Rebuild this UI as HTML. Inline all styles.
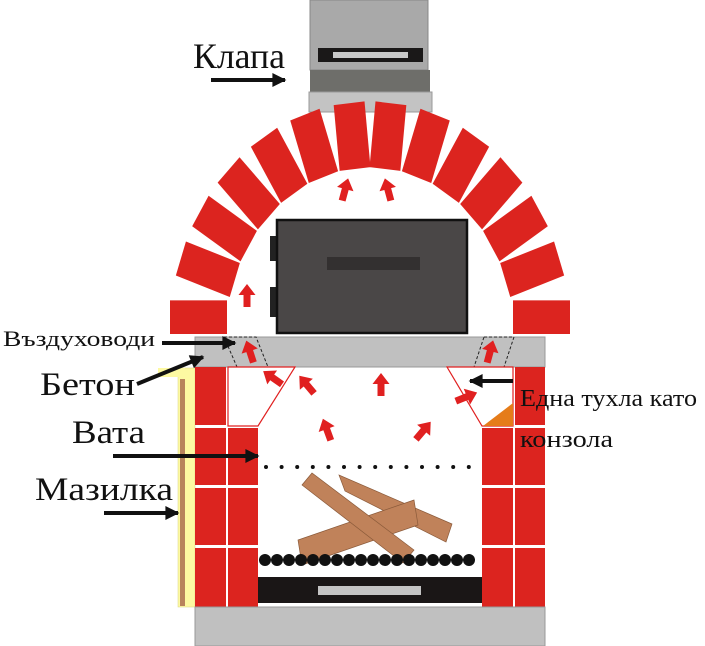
<!DOCTYPE html>
<html><head><meta charset="utf-8"><style>
html,body{margin:0;padding:0;background:#fff}
svg{display:block}
text{font-family:"Liberation Serif",serif;fill:#111}
</style></head><body>
<svg width="705" height="646" viewBox="0 0 705 646" xmlns="http://www.w3.org/2000/svg">
<defs>
<path id="ra" d="M-3.5,11 L3.5,11 L3.5,-1 L8.5,-1 L0,-12 L-8.5,-1 L-3.5,-1Z" fill="#e02020"/>
<marker id="bh" viewBox="0 0 10 10" refX="9" refY="5" markerWidth="5" markerHeight="3.5" orient="auto" markerUnits="strokeWidth"><path d="M0,0 L10,5 L0,10Z" fill="#111"/></marker>
</defs>
<rect x="310" y="0" width="118" height="70" fill="#a9a9a9" stroke="#888" stroke-width="1"/>
<rect x="318" y="48" width="105" height="14" fill="#1a1818"/>
<rect x="333" y="52" width="75" height="6" fill="#c8c8c8"/>
<rect x="310" y="70" width="120" height="22" fill="#6e6e6a"/>
<rect x="309" y="92" width="123" height="20" fill="#c3c3c3" stroke="#999" stroke-width="1"/>
<g transform="translate(370,334) scale(1,1.16)" fill="#dc241f">
<rect x="143" y="-29" width="57" height="29"/>
<rect x="143" y="-15.5" width="57" height="31" transform="rotate(-19)"/>
<rect x="143" y="-15.5" width="57" height="31" transform="rotate(-32)"/>
<rect x="143" y="-15.5" width="57" height="31" transform="rotate(-45)"/>
<rect x="143" y="-15.5" width="57" height="31" transform="rotate(-58)"/>
<rect x="143" y="-15.5" width="57" height="31" transform="rotate(-71)"/>
<rect x="143" y="-15.5" width="57" height="31" transform="rotate(-84)"/>
<rect x="143" y="-15.5" width="57" height="31" transform="rotate(-96)"/>
<rect x="143" y="-15.5" width="57" height="31" transform="rotate(-109)"/>
<rect x="143" y="-15.5" width="57" height="31" transform="rotate(-122)"/>
<rect x="143" y="-15.5" width="57" height="31" transform="rotate(-135)"/>
<rect x="143" y="-15.5" width="57" height="31" transform="rotate(-148)"/>
<rect x="143" y="-15.5" width="57" height="31" transform="rotate(-161)"/>
<rect x="-200" y="-29" width="57" height="29"/>
</g>
<rect x="270" y="236" width="9" height="25" fill="#222"/>
<rect x="270" y="287" width="9" height="30" fill="#222"/>
<rect x="277" y="220" width="190" height="113" fill="#4a4747" stroke="#111" stroke-width="2.5"/>
<rect x="327" y="257" width="93" height="13" fill="#333030"/>
<rect x="195" y="337" width="350" height="30" fill="#c0c0c0" stroke="#999" stroke-width="1"/>
<polygon points="224,337 256,337 268,367 237,367" fill="none" stroke="#222" stroke-width="1" stroke-dasharray="3,2"/>
<polygon points="484,337 514,337 504,367 474,367" fill="none" stroke="#222" stroke-width="1" stroke-dasharray="3,2"/>
<rect x="178" y="368" width="17" height="239" fill="#fdf9a2" stroke="#d8d480" stroke-width="0.5"/>
<rect x="158" y="368" width="27" height="9" fill="#fdf9a2"/>
<rect x="180" y="379" width="5" height="227" fill="#b8845c"/>
<g fill="#dc241f">
<rect x="195" y="367" width="31" height="58"/>
<rect x="195" y="428" width="31" height="57"/><rect x="228" y="428" width="30" height="57"/>
<rect x="195" y="488" width="31" height="57"/><rect x="228" y="488" width="30" height="57"/>
<rect x="195" y="548" width="31" height="59"/><rect x="228" y="548" width="30" height="59"/>
<rect x="515" y="367" width="30" height="58"/>
<rect x="482" y="428" width="31" height="57"/><rect x="515" y="428" width="30" height="57"/>
<rect x="482" y="488" width="31" height="57"/><rect x="515" y="488" width="30" height="57"/>
<rect x="482" y="548" width="31" height="59"/><rect x="515" y="548" width="30" height="59"/>
</g>
<polygon points="228,367 295,367 258,426 228,426" fill="#fff" stroke="#e02020" stroke-width="1.2"/>
<polygon points="447,367 513,367 513,426 482,426" fill="#fff" stroke="#e02020" stroke-width="1.2"/>
<polygon points="513,403 513,426 483,426" fill="#e57c1a"/>
<line x1="266" y1="467" x2="472" y2="467" stroke="#111" stroke-width="4" stroke-linecap="round" stroke-dasharray="0,15.6"/>
<g fill="#c0825a" stroke="#8a5a3a" stroke-width="0.7">
<polygon points="339,475 345,491 446,542 452,524"/>
<polygon points="298,540 302,565 418,525 414,500"/>
<polygon points="312,473 302,485 403,563 414,550"/>
</g>
<g fill="#111">
<circle cx="265" cy="560" r="6"/><circle cx="277" cy="560" r="6"/><circle cx="289" cy="560" r="6"/><circle cx="301" cy="560" r="6"/><circle cx="313" cy="560" r="6"/><circle cx="325" cy="560" r="6"/><circle cx="337" cy="560" r="6"/><circle cx="349" cy="560" r="6"/><circle cx="361" cy="560" r="6"/><circle cx="373" cy="560" r="6"/><circle cx="385" cy="560" r="6"/><circle cx="397" cy="560" r="6"/><circle cx="409" cy="560" r="6"/><circle cx="421" cy="560" r="6"/><circle cx="433" cy="560" r="6"/><circle cx="445" cy="560" r="6"/><circle cx="457" cy="560" r="6"/><circle cx="469" cy="560" r="6"/>
</g>
<rect x="258" y="577" width="224" height="26" fill="#1a1616"/>
<rect x="318" y="586" width="103" height="9" fill="#c4c4c4"/>
<rect x="195" y="607" width="350" height="39" fill="#c0c0c0" stroke="#999" stroke-width="1"/>
<use href="#ra" transform="translate(345,190) rotate(15)"/>
<use href="#ra" transform="translate(388,190) rotate(-15)"/>
<use href="#ra" transform="translate(247,296)"/>
<use href="#ra" transform="translate(250,352) rotate(-18)"/>
<use href="#ra" transform="translate(273,378) rotate(-55)"/>
<use href="#ra" transform="translate(307,385) rotate(-40)"/>
<use href="#ra" transform="translate(381,385)"/>
<use href="#ra" transform="translate(327,430) rotate(-20)"/>
<use href="#ra" transform="translate(423,431) rotate(40)"/>
<use href="#ra" transform="translate(466,397) rotate(68)"/>
<use href="#ra" transform="translate(490,352) rotate(15)"/>
<g stroke="#111" stroke-width="4" marker-end="url(#bh)">
<line x1="211" y1="80" x2="285" y2="80"/>
<line x1="162" y1="343" x2="235" y2="343"/>
<line x1="137" y1="384" x2="203" y2="357"/>
<line x1="113" y1="456" x2="258" y2="456"/>
<line x1="104" y1="513" x2="178" y2="513"/>
<line x1="513" y1="381" x2="470" y2="381"/>
</g>
<text x="193" y="68" font-size="36" textLength="92" lengthAdjust="spacingAndGlyphs">Клапа</text>
<text x="3" y="346" font-size="22" textLength="152" lengthAdjust="spacingAndGlyphs">Въздуховоди</text>
<text x="40" y="395" font-size="33" textLength="95" lengthAdjust="spacingAndGlyphs">Бетон</text>
<text x="72" y="443" font-size="33" textLength="73" lengthAdjust="spacingAndGlyphs">Вата</text>
<text x="35" y="500" font-size="33" textLength="138" lengthAdjust="spacingAndGlyphs">Мазилка</text>
<text x="520" y="406" font-size="24" textLength="177" lengthAdjust="spacingAndGlyphs">Една тухла като</text>
<text x="520" y="447" font-size="24" textLength="93" lengthAdjust="spacingAndGlyphs">конзола</text>
</svg>
</body></html>
